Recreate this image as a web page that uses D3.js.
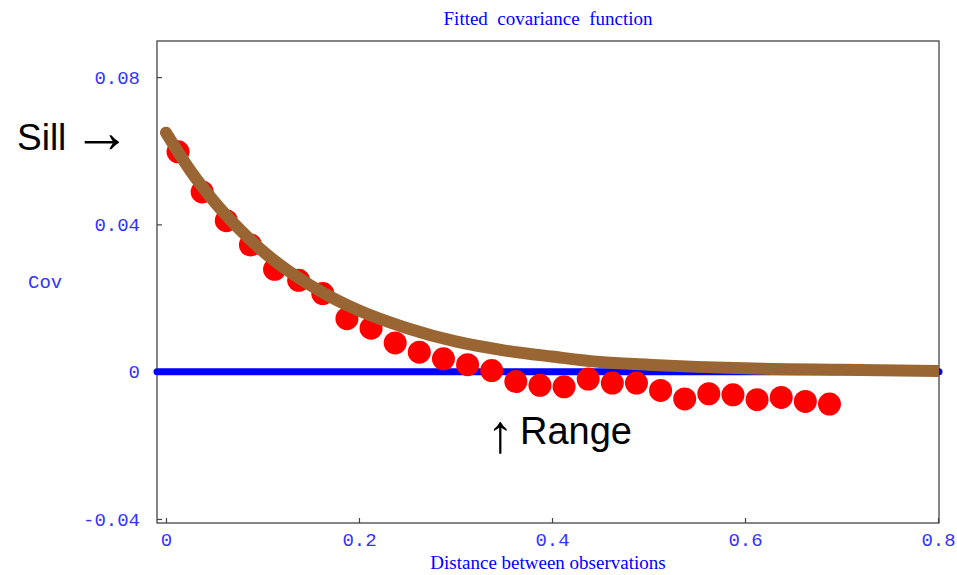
<!DOCTYPE html>
<html>
<head>
<meta charset="utf-8">
<script src="https://cdn.jsdelivr.net/npm/d3@7"></script>
<style>
  body { margin: 0; background: #fff; }
  .tick text { font-family: "Liberation Mono", "Courier New", monospace; fill: #3333ff; }
</style>
</head>
<body>
<div id="chart"></div>
<script>
// empirical covariance (red dots)
var lagDistance = [0.0125, 0.0375, 0.0625, 0.0875, 0.1125, 0.1375, 0.1625, 0.1875, 0.2125, 0.2375,
                   0.2625, 0.2875, 0.3125, 0.3375, 0.3625, 0.3875, 0.4125, 0.4375, 0.4625, 0.4875,
                   0.5125, 0.5375, 0.5625, 0.5875, 0.6125, 0.6375, 0.6625, 0.6875];
var covValues = [0.0597, 0.0488, 0.0410, 0.0344, 0.0278, 0.0248, 0.0212, 0.0144, 0.0118, 0.0078,
                 0.0053, 0.0035, 0.0019, 0.0003, -0.0027, -0.0037, -0.0041, -0.0020, -0.0031, -0.0031,
                 -0.0051, -0.0074, -0.0060, -0.0063, -0.0076, -0.0070, -0.0081, -0.0088];

// fitted covariance function (brown curve)
var fitDistance = [0, 0.025, 0.05, 0.075, 0.1, 0.125, 0.15, 0.175, 0.2, 0.25,
                   0.3, 0.35, 0.4, 0.45, 0.5, 0.55, 0.6, 0.7, 0.8];
var fitValues = [0.0649, 0.0547, 0.0462, 0.0390, 0.0328, 0.0277, 0.0234, 0.0197, 0.0166, 0.0118,
                 0.0082, 0.0058, 0.0041, 0.0026, 0.0019, 0.0013, 0.0009, 0.0005, 0.0002];

// zero reference line (blue)
var zeroLineX = [-0.0093, 0.801];
var zeroLineY = [0, 0];

var xTicks = [0, 0.2, 0.4, 0.6, 0.8];
var xTickLabels = ["0", "0.2", "0.4", "0.6", "0.8"];
var yTicks = [-0.04, 0, 0.04, 0.08];
var yTickLabels = ["-0.04", "0", "0.04", "0.08"];

var attrs = {
  svgWidth: 957,
  svgHeight: 575,
  frameLeft: 157,
  frameRight: 939,
  frameTop: 41,
  frameBottom: 523,
  title: "Fitted  covariance  function",
  xLabel: "Distance between observations",
  yLabel: "Cov",
  dotColor: "#ff0000",
  fitColor: "#996633",
  zeroColor: "#0000ff",
  labelColor: "#0000ff",
  frameColor: "#444444"
};

var svg = d3.select("#chart").append("svg")
  .attr("width", attrs.svgWidth)
  .attr("height", attrs.svgHeight);

// scales
var x = d3.scaleLinear().domain([-0.0093, 0.801]).range([attrs.frameLeft, attrs.frameRight]);
var y = d3.scaleLinear().domain([-0.0411, 0.0898]).range([attrs.frameBottom, attrs.frameTop]);

svg.append("clipPath").attr("id", "frameClip")
  .append("rect")
  .attr("x", attrs.frameLeft).attr("y", attrs.frameTop)
  .attr("width", attrs.frameRight - attrs.frameLeft)
  .attr("height", attrs.frameBottom - attrs.frameTop);

// frame
svg.append("rect")
  .attr("x", attrs.frameLeft).attr("y", attrs.frameTop)
  .attr("width", attrs.frameRight - attrs.frameLeft)
  .attr("height", attrs.frameBottom - attrs.frameTop)
  .attr("fill", "none")
  .attr("stroke", attrs.frameColor)
  .attr("stroke-width", 1.3);

// axes, ticks point inward
var xAxis = d3.axisBottom(x).tickValues(xTicks).tickSize(-5).tickPadding(10)
  .tickFormat(function (d, i) { return xTickLabels[i]; });
var yAxis = d3.axisLeft(y).tickValues(yTicks).tickSize(-5).tickPadding(17)
  .tickFormat(function (d, i) { return yTickLabels[i]; });

var gx = svg.append("g").attr("transform", "translate(0," + attrs.frameBottom + ")").call(xAxis);
var gy = svg.append("g").attr("transform", "translate(" + attrs.frameLeft + ",0)").call(yAxis);
[gx, gy].forEach(function (g) {
  g.select(".domain").remove();
  g.selectAll(".tick line").attr("stroke", attrs.frameColor).attr("stroke-width", 1.2);
  g.selectAll(".tick text").attr("font-size", 19);
});

// zero line
var zeroLine = d3.line().x(function (d) { return x(d[0]); }).y(function (d) { return y(d[1]); });
svg.append("path")
  .datum(d3.zip(zeroLineX, zeroLineY))
  .attr("d", zeroLine)
  .attr("fill", "none")
  .attr("stroke", attrs.zeroColor)
  .attr("stroke-width", 7)
  .attr("stroke-linecap", "round");

// empirical points
svg.append("g").selectAll("circle")
  .data(d3.zip(lagDistance, covValues))
  .enter().append("circle")
  .attr("cx", function (d) { return x(d[0]); })
  .attr("cy", function (d) { return y(d[1]); })
  .attr("r", 11.5)
  .attr("fill", attrs.dotColor);

// fitted curve
var fitLine = d3.line()
  .x(function (d) { return x(d[0]); })
  .y(function (d) { return y(d[1]); })
  .curve(d3.curveMonotoneX);
svg.append("path")
  .datum(d3.zip(fitDistance, fitValues))
  .attr("d", fitLine)
  .attr("clip-path", "url(#frameClip)")
  .attr("fill", "none")
  .attr("stroke", attrs.fitColor)
  .attr("stroke-width", 12)
  .attr("stroke-linecap", "round")
  .attr("stroke-linejoin", "round");

// titles
svg.append("text")
  .attr("x", (attrs.frameLeft + attrs.frameRight) / 2).attr("y", 25)
  .attr("text-anchor", "middle")
  .attr("font-family", "Liberation Serif, Times New Roman, serif")
  .attr("font-size", 19)
  .attr("fill", attrs.labelColor)
  .style("white-space", "pre")
  .text(attrs.title);

svg.append("text")
  .attr("x", (attrs.frameLeft + attrs.frameRight) / 2).attr("y", 569)
  .attr("text-anchor", "middle")
  .attr("font-family", "Liberation Serif, Times New Roman, serif")
  .attr("font-size", 19)
  .attr("fill", attrs.labelColor)
  .text(attrs.xLabel);

svg.append("text")
  .attr("x", 28).attr("y", 288)
  .attr("font-family", "Liberation Mono, Courier New, monospace")
  .attr("font-size", 19)
  .attr("fill", "#3333ff")
  .text(attrs.yLabel);

// annotations
var annoFont = "Liberation Sans, Arial, sans-serif";
svg.append("text")
  .attr("x", 17).attr("y", 150)
  .attr("font-family", annoFont)
  .attr("font-size", 37)
  .attr("fill", "#000")
  .text("Sill");
svg.append("text")
  .attr("x", 73).attr("y", 152)
  .attr("font-family", annoFont)
  .attr("font-size", 60)
  .attr("textLength", 58)
  .attr("lengthAdjust", "spacingAndGlyphs")
  .attr("fill", "#000")
  .text("\u2192");

svg.append("text")
  .attr("x", 487).attr("y", 452)
  .attr("font-family", annoFont)
  .attr("font-size", 54)
  .attr("fill", "#000")
  .text("\u2191");
svg.append("text")
  .attr("x", 520).attr("y", 444)
  .attr("font-family", annoFont)
  .attr("font-size", 38)
  .attr("fill", "#000")
  .text("Range");
</script>
</body>
</html>
